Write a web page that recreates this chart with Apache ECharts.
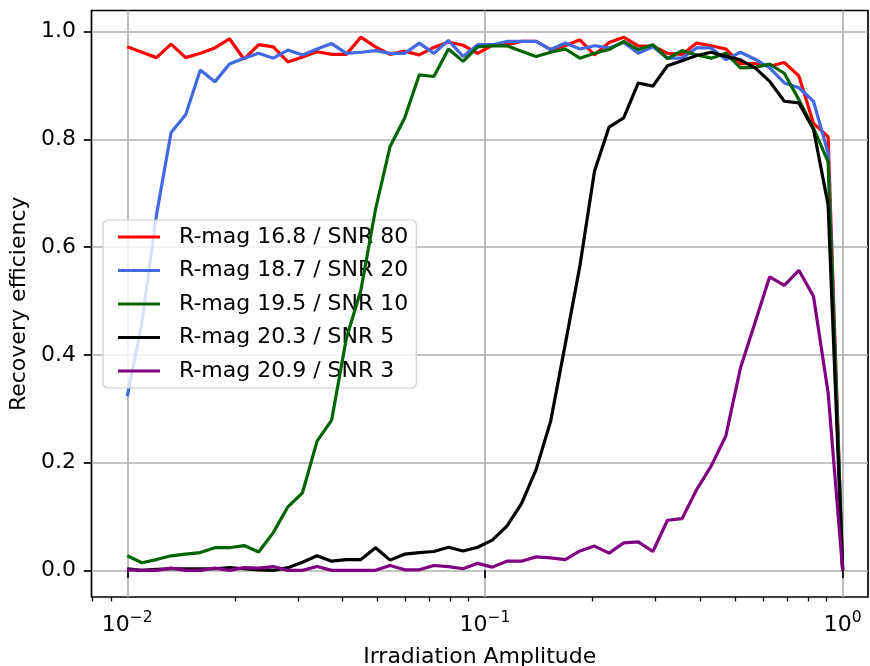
<!DOCTYPE html>
<html><head><meta charset="utf-8">
<script src="https://cdn.jsdelivr.net/npm/echarts@6/dist/echarts.min.js"></script>
<style>html,body{margin:0;padding:0;background:#fff}#c{width:870px;height:666px}</style>
</head><body><div id="c"></div>
<script>
const amplitude = [0.01000,0.010985,0.012068,0.013257,0.014563,0.015999,0.017575,0.019307,0.021210,0.023300,
  0.025595,0.028118,0.030888,0.033932,0.037276,0.040949,0.044984,0.049417,0.054287,0.059636,
  0.065513,0.071969,0.079060,0.086851,0.095410,0.10481,0.11514,0.12649,0.13895,0.15264,
  0.16768,0.18421,0.20236,0.22230,0.24421,0.26827,0.29471,0.32375,0.35565,0.39069,
  0.42919,0.47149,0.51795,0.56899,0.62506,0.68665,0.75431,0.82864,0.91030,1.0000];

const seriesNames = ['R-mag 16.8 / SNR 80','R-mag 18.7 / SNR 20','R-mag 19.5 / SNR 10','R-mag 20.3 / SNR 5','R-mag 20.9 / SNR 3'];

const snr80 = [0.972,0.962,0.952,0.977,0.952,0.960,0.970,0.987,0.949,0.976,
  0.972,0.944,0.953,0.963,0.958,0.958,0.990,0.972,0.958,0.964,
  0.957,0.971,0.981,0.975,0.960,0.975,0.976,0.982,0.982,0.967,
  0.974,0.985,0.957,0.980,0.990,0.974,0.973,0.960,0.958,0.979,
  0.974,0.968,0.941,0.941,0.936,0.943,0.918,0.830,0.805,0.0];
const snr20 = [0.323,0.46,0.66,0.813,0.846,0.929,0.907,0.940,0.951,0.960,
  0.951,0.966,0.957,0.968,0.978,0.960,0.962,0.965,0.960,0.960,
  0.979,0.960,0.984,0.954,0.976,0.976,0.982,0.982,0.982,0.967,
  0.979,0.968,0.974,0.970,0.980,0.960,0.972,0.951,0.951,0.970,
  0.970,0.948,0.962,0.949,0.933,0.905,0.896,0.871,0.775,0.0];
const snr10 = [0.027,0.014,0.020,0.027,0.030,0.033,0.042,0.042,0.046,0.034,
  0.070,0.118,0.144,0.240,0.279,0.43,0.52,0.67,0.787,0.840,
  0.920,0.917,0.968,0.945,0.972,0.974,0.974,0.964,0.954,0.962,
  0.968,0.951,0.960,0.967,0.982,0.967,0.976,0.950,0.965,0.957,
  0.951,0.960,0.933,0.934,0.940,0.923,0.874,0.821,0.759,0.0];
const snr5 = [0.003,0.000,0.002,0.003,0.003,0.003,0.003,0.005,0.003,0.001,
  0.000,0.005,0.015,0.027,0.017,0.020,0.020,0.042,0.019,0.030,
  0.033,0.035,0.043,0.036,0.043,0.056,0.082,0.124,0.187,0.277,
  0.42,0.565,0.741,0.823,0.840,0.905,0.899,0.937,0.946,0.956,
  0.962,0.954,0.948,0.933,0.908,0.871,0.868,0.819,0.679,0.0];
const snr3 = [0.001,0.000,0.000,0.004,0.000,0.000,0.004,0.000,0.005,0.004,
  0.007,0.000,0.000,0.007,0.000,0.000,0.000,0.000,0.009,0.001,
  0.001,0.009,0.007,0.003,0.013,0.006,0.017,0.017,0.025,0.023,
  0.020,0.036,0.045,0.032,0.051,0.053,0.035,0.093,0.096,0.150,
  0.194,0.250,0.376,0.460,0.545,0.529,0.557,0.509,0.330,0.0];

const xMajorTicks = [0.01, 0.1, 1];
const xMinorTicks = [0.008,0.009,0.02,0.03,0.04,0.05,0.06,0.07,0.08,0.09,0.2,0.3,0.4,0.5,0.6,0.7,0.8,0.9];
const yTicks = [0, 0.2, 0.4, 0.6, 0.8, 1.0];

const colors = ['#ff0000','#4169e1','#006400','#000000','#800080'];
const allValues = [snr80, snr20, snr10, snr5, snr3];

const FONT = 'DejaVu Sans';
const FS = 22;

const chart = echarts.init(document.getElementById('c'), null, {renderer: 'canvas'});

function supLabel(v) {
  const e = Math.round(Math.log10(v));
  const s = e < 0 ? '\u2212' + (-e) : String(e);
  return '{b|10}{s|' + s + '}';
}

const option = {
  animation: false,
  backgroundColor: '#fff',
  textStyle: {fontFamily: FONT},
  grid: {left: 91.5, right: 2, top: 10.5, bottom: 69, show: true, borderColor: '#000', borderWidth: 1.7,
    backgroundColor: 'transparent', outerBoundsMode: 'none', containLabel: false},
  legend: {
    left: 103, top: 220, orient: 'vertical',
    data: seriesNames,
    itemWidth: 42, itemHeight: 3, itemGap: 11.5,
    padding: [6, 8, 6, 15],
    backgroundColor: 'rgba(255,255,255,0.8)', borderColor: '#cccccc', borderWidth: 1.2, borderRadius: 5,
    textStyle: {fontFamily: FONT, fontSize: FS, color: '#000', lineHeight: 22, padding: [0, 0, 0, 14]},
    icon: 'rect'
  },
  xAxis: [{
    type: 'log', logBase: 10, min: 0.007943, max: 1.177,
    name: 'Irradiation Amplitude', nameLocation: 'middle', nameGap: 49,
    nameTextStyle: {fontFamily: FONT, fontSize: FS, color: '#000'},
    axisLine: {show: false},
    axisTick: {show: true, customValues: xMajorTicks, length: 7.7, lineStyle: {color: '#000', width: 1.7}},
    axisLabel: {show: true, customValues: xMajorTicks, margin: 15, formatter: supLabel,
      rich: {b: {fontFamily: FONT, fontSize: FS, color: '#000', verticalAlign: 'bottom', lineHeight: 24},
             s: {fontFamily: FONT, fontSize: 15.5, color: '#000', verticalAlign: 'bottom', lineHeight: 24, padding: [0, 0, 10, 0]}}},
    splitLine: {show: true, lineStyle: {color: '#b0b0b0', width: 1.7}}
  }, {
    type: 'log', logBase: 10, min: 0.007943, max: 1.177, position: 'bottom',
    axisLine: {show: false},
    axisTick: {show: true, customValues: xMinorTicks, length: 4.4, lineStyle: {color: '#000', width: 1.3}},
    axisLabel: {show: false},
    splitLine: {show: false}
  }],
  yAxis: {
    type: 'value', min: -0.0495, max: 1.0395,
    name: 'Recovery efficiency', nameLocation: 'middle', nameGap: 60,
    nameTextStyle: {fontFamily: FONT, fontSize: FS, color: '#000'},
    axisLine: {show: false},
    axisTick: {show: true, customValues: yTicks, length: 7.7, lineStyle: {color: '#000', width: 1.7}},
    axisLabel: {show: true, customValues: yTicks, margin: 15.4, fontFamily: FONT, fontSize: FS, color: '#000',
      formatter: v => v.toFixed(1)},
    splitLine: {show: true, lineStyle: {color: '#b0b0b0', width: 1.7}}
  },
  series: seriesNames.map((n, k) => ({
    name: n, type: 'line', xAxisIndex: 0, showSymbol: false, symbol: 'none',
    data: amplitude.map((x, i) => [x, allValues[k][i]]),
    lineStyle: {color: colors[k], width: 3.2},
    itemStyle: {color: colors[k]},
    z: 2 + k
  }))
};
chart.setOption(option);
</script></body></html>
